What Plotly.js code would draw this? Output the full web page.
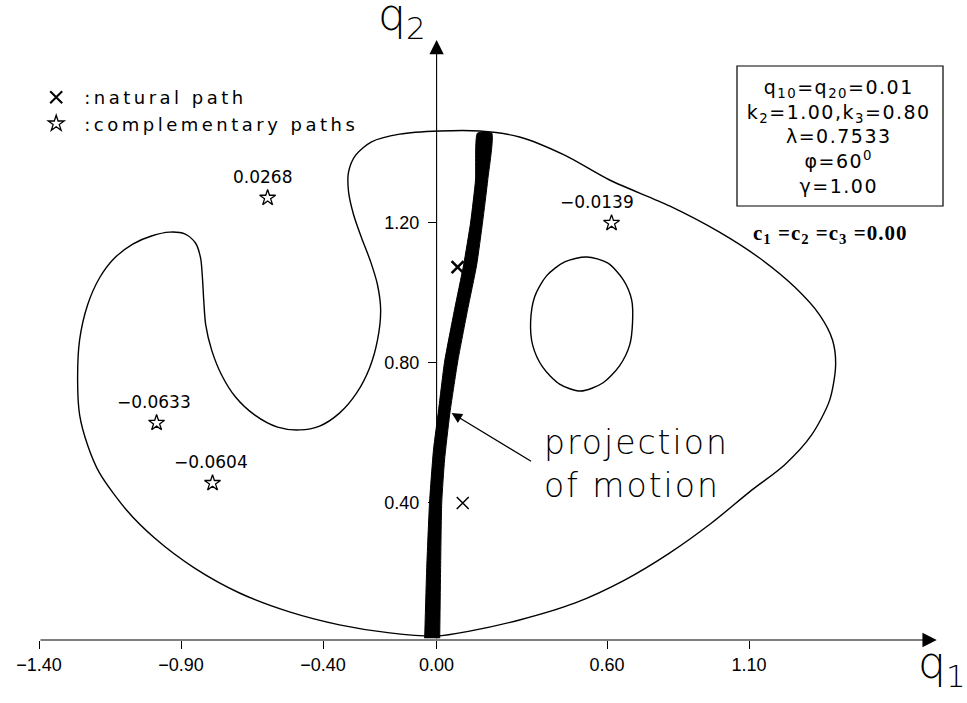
<!DOCTYPE html>
<html>
<head>
<meta charset="utf-8">
<script src="https://cdn.plot.ly/plotly-3.0.1.min.js"></script>
<style>
  html, body { margin: 0; padding: 0; background: #fff; }
  #chart { width: 967px; height: 703px; }
</style>
</head>
<body>
<div id="chart"></div>
<script>
// Axis ticks
const q1Ticks = [-1.40, -0.90, -0.40, 0.00, 0.60, 1.10];
const q2Ticks = [0.40, 0.80, 1.20];

// Zero-velocity boundary (outer closed curve)
const boundaryQ1 = [0.000, 0.116, 0.292, 0.486, 0.662, 0.820, 0.968, 1.102, 1.225, 1.320, 1.384, 1.405,
  1.394, 1.349, 1.261, 1.137, 0.996, 0.820, 0.609, 0.451, 0.292, 0.151, 0.011, -0.130, -0.229, -0.285,
  -0.310, -0.310, -0.292, -0.264, -0.232, -0.208, -0.197, -0.208, -0.236, -0.282, -0.342, -0.412,
  -0.482, -0.560, -0.641, -0.708, -0.757, -0.792, -0.813, -0.820, -0.824, -0.831, -0.849, -0.887,
  -0.940, -1.004, -1.070, -1.134, -1.187, -1.229, -1.257, -1.264, -1.257, -1.229, -1.187, -1.092,
  -0.993, -0.852, -0.694, -0.518, -0.342, -0.165, 0.000];
const boundaryQ2 = [0.019, 0.033, 0.065, 0.113, 0.179, 0.256, 0.342, 0.431, 0.508, 0.593, 0.693, 0.793,
  0.865, 0.936, 1.016, 1.099, 1.173, 1.248, 1.322, 1.393, 1.445, 1.462, 1.462, 1.453, 1.431, 1.393,
  1.345, 1.288, 1.222, 1.156, 1.088, 1.022, 0.951, 0.865, 0.785, 0.713, 0.656, 0.619,
  0.608, 0.616, 0.651, 0.702, 0.765, 0.836, 0.908, 0.979, 1.036, 1.099, 1.142, 1.168,
  1.173, 1.162, 1.139, 1.099, 1.042, 0.965, 0.865, 0.751, 0.651, 0.565, 0.485, 0.379,
  0.299, 0.213, 0.142, 0.088, 0.051, 0.028, 0.019];

// Inner forbidden island (oval)
const islandQ1 = [0.528, 0.602, 0.658, 0.687, 0.690, 0.680, 0.644, 0.585, 0.507, 0.433, 0.373, 0.338,
  0.331, 0.345, 0.387, 0.451, 0.528];
const islandQ2 = [1.102, 1.085, 1.036, 0.979, 0.916, 0.851, 0.791, 0.742, 0.719, 0.739, 0.788, 0.851,
  0.916, 0.988, 1.048, 1.088, 1.102];

// Projection of motion: outline of the swept band (left edge up, right edge down)
const motionQ1 = [-0.042, -0.035, -0.025, -0.011, 0.007, 0.028, 0.063, 0.095, 0.120, 0.137, 0.144,
  0.194, 0.180, 0.162, 0.141, 0.109, 0.074, 0.046, 0.028, 0.018, 0.014, 0.011];
const motionQ2 = [0.013, 0.208, 0.399, 0.551, 0.665, 0.802, 0.951, 1.079, 1.202, 1.322, 1.456,
  1.456, 1.322, 1.202, 1.079, 0.951, 0.802, 0.651, 0.522, 0.399, 0.208, 0.013];

// Natural path points
const naturalQ1 = [0.074, 0.092];
const naturalQ2 = [1.073, 0.399];

// Complementary path points and their values
const compQ1 = [-0.595, -0.986, -0.789, 0.616];
const compQ2 = [1.271, 0.628, 0.456, 1.199];
const compValue = [0.0268, -0.0633, -0.0604, -0.0139];

// Parameter box lines
const paramLines = [
  'q<sub>10</sub>=q<sub>20</sub>=0.01',
  'k<sub>2</sub>=1.00,k<sub>3</sub>=0.80',
  'λ=0.7533',
  'φ=60<sup>0</sup>',
  'γ=1.00'
];
const constantsLine = 'c<sub>1</sub> =c<sub>2</sub> =c<sub>3</sub> =0.00';

// ---- layout helpers ----
const X_MIN = -1.4, X_MAX = -1.4 + 900 / 284;
const Y_MIN = (642.7 - 640) / 350, Y_MAX = (642.7 - 40) / 350;
const fmtSigned = (v, d) => (v < 0 ? '\u2212' : '') + Math.abs(v).toFixed(d);
const thin = { family: 'DejaVu Sans', weight: 200, color: '#000' };
const plain = { family: 'DejaVu Sans', weight: 400, color: '#000' };
const labelShiftX = [-5, -3, -2, -15];

const traces = [
  {
    x: boundaryQ1, y: boundaryQ2, type: 'scatter', mode: 'lines',
    line: { color: '#000', width: 1.4, shape: 'spline', smoothing: 0.8 },
    showlegend: false, hoverinfo: 'skip'
  },
  {
    x: islandQ1, y: islandQ2, type: 'scatter', mode: 'lines',
    line: { color: '#000', width: 1.4, shape: 'spline', smoothing: 0.8 },
    showlegend: false, hoverinfo: 'skip'
  },
  {
    x: motionQ1, y: motionQ2, type: 'scatter', mode: 'lines', fill: 'toself',
    fillcolor: '#000', line: { color: '#000', width: 1, shape: 'spline', smoothing: 0.5 },
    showlegend: false, hoverinfo: 'skip'
  },
  {
    x: naturalQ1, y: naturalQ2, type: 'scatter', mode: 'markers', name: ':natural path',
    marker: { symbol: 'x-thin-open', size: 12, color: '#000', line: { color: '#000', width: [2.6, 1.5] } }
  },
  {
    x: compQ1, y: compQ2, type: 'scatter', mode: 'markers', name: ':complementary paths',
    marker: { symbol: 'star-open', size: 12, color: '#000', line: { color: '#000', width: 1.3 } }
  }
];

const annotations = [];
const spacing = {};   // letter spacing (px) per annotation index
// axis lines with arrowheads
annotations.push({
  x: 1.761, y: Y_MIN, ax: X_MIN, ay: Y_MIN, xref: 'x', yref: 'y', axref: 'x', ayref: 'y',
  text: '', showarrow: true, arrowhead: 2, arrowsize: 2.6, arrowwidth: 1.1, arrowcolor: '#000', standoff: 0
});
annotations.push({
  x: 0, y: Y_MAX, ax: 0, ay: Y_MIN, xref: 'x', yref: 'y', axref: 'x', ayref: 'y',
  text: '', showarrow: true, arrowhead: 2, arrowsize: 2.6, arrowwidth: 1.1, arrowcolor: '#000', standoff: 0
});
// axis names
annotations.push({
  x: 0.4033, y: 1.038, xref: 'paper', yref: 'paper', xanchor: 'center', yanchor: 'middle',
  text: 'q<sub>2</sub>', showarrow: false, font: Object.assign({ size: 44 }, thin)
});
annotations.push({
  x: 1.003, y: -0.042, xref: 'paper', yref: 'paper', xanchor: 'center', yanchor: 'middle',
  text: 'q<sub>1</sub>', showarrow: false, font: Object.assign({ size: 44 }, thin)
});
// values of complementary paths
compQ1.forEach((q1, i) => {
  annotations.push({
    x: q1, y: compQ2[i], xref: 'x', yref: 'y', xanchor: 'center', yanchor: 'bottom',
    yshift: 9, xshift: labelShiftX[i],
    text: fmtSigned(compValue[i], 4), showarrow: false, font: Object.assign({ size: 17 }, plain)
  });
});
// projection of motion label with pointer
annotations.push({
  x: 0.053, y: 0.656, ax: 0.338, ay: 0.516, xref: 'x', yref: 'y', axref: 'x', ayref: 'y',
  text: '', showarrow: true, arrowhead: 2, arrowsize: 1.6, arrowwidth: 1.3, arrowcolor: '#000', standoff: 0
});
spacing[annotations.length] = 2;
annotations.push({
  x: (542 - 39) / 900, y: 0.293, xref: 'paper', yref: 'paper', xanchor: 'left', yanchor: 'middle',
  align: 'left', text: 'projection<br>of motion', showarrow: false,
  font: Object.assign({ size: 33 }, thin)
});
// parameter box
spacing[annotations.length] = 1.5;
annotations.push({
  x: (838 - 39) / 900, y: (640 - 137) / 600, xref: 'paper', yref: 'paper',
  xanchor: 'center', yanchor: 'middle', align: 'center',
  text: paramLines.join('<br>'), showarrow: false, font: Object.assign({ size: 19 }, plain)
});
spacing[annotations.length] = 1;
annotations.push({
  x: (830 - 39) / 900, y: (640 - 234) / 600, xref: 'paper', yref: 'paper',
  xanchor: 'center', yanchor: 'middle', text: '<b>' + constantsLine + '</b>', showarrow: false,
  font: { family: 'Liberation Serif', size: 21, color: '#000' }
});

const layout = {
  width: 967, height: 703,
  margin: { l: 39, r: 28, t: 40, b: 63 },
  paper_bgcolor: '#fff', plot_bgcolor: '#fff',
  showlegend: true,
  legend: {
    x: -0.012, y: 0.935, xanchor: 'left', yanchor: 'top',
    bgcolor: 'rgba(0,0,0,0)', borderwidth: 0, itemwidth: 46,
    font: Object.assign({ size: 18 }, plain), tracegroupgap: 0
  },
  xaxis: {
    range: [X_MIN, X_MAX], showgrid: false, zeroline: false, showline: false,
    tickvals: q1Ticks, ticktext: q1Ticks.map(t => fmtSigned(t, 2)),
    ticks: 'outside', ticklen: 8, tickwidth: 1, tickcolor: '#000',
    tickfont: { family: 'Liberation Sans', size: 18, color: '#000' }, fixedrange: true
  },
  yaxis: {
    range: [Y_MIN, Y_MAX], showgrid: false, zeroline: false, showline: false,
    anchor: 'free', position: (437 - 39) / 900, side: 'left',
    tickvals: q2Ticks, ticktext: q2Ticks.map(t => fmtSigned(t, 2)),
    ticks: 'outside', ticklen: 9, tickwidth: 1, tickcolor: '#000', ticklabelstandoff: 5,
    tickfont: { family: 'Liberation Sans', size: 18, color: '#000' }, fixedrange: true
  },
  shapes: [{
    type: 'rect', xref: 'paper', yref: 'paper',
    x0: (737 - 39) / 900, x1: (943 - 39) / 900, y0: (640 - 206) / 600, y1: (640 - 66) / 600,
    line: { color: '#000', width: 1.2 }
  }],
  annotations: annotations
};

Plotly.newPlot('chart', traces, layout, { staticPlot: true, displayModeBar: false }).then(gd => {
  // widen the drafting-style lettering
  gd.querySelectorAll('.legend [clip-path]').forEach(e => e.removeAttribute('clip-path'));
  gd.querySelectorAll('.legendtext').forEach(t => { t.style.letterSpacing = '3.5px'; });
  Object.keys(spacing).forEach(idx => {
    gd.querySelectorAll('g.annotation[data-index="' + idx + '"] text').forEach(t => {
      t.style.letterSpacing = spacing[idx] + 'px';
    });
  });
});
</script>
</body>
</html>
